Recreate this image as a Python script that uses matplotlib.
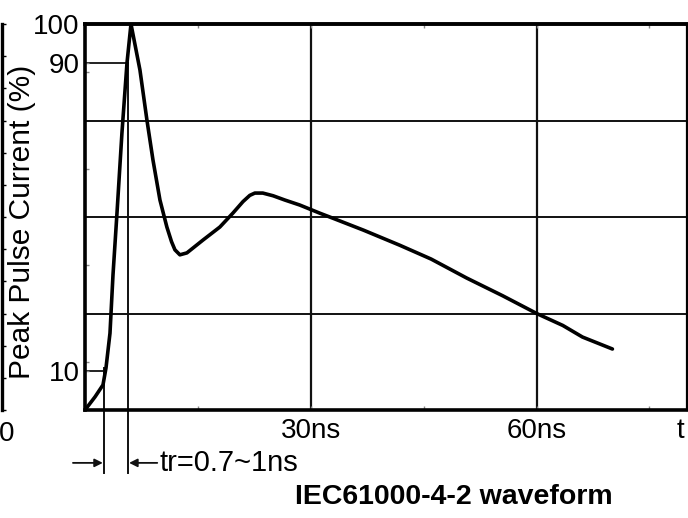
import numpy as np
import matplotlib.pyplot as plt

plt.rcParams['font.family'] = ['Liberation Sans', 'DejaVu Sans']

# waveform: time (ns), current (% of peak)
t_ns = [0, 1.33, 2.39, 2.79, 3.32, 3.72, 4.25, 4.91, 5.58, 6.11,
        7.30, 8.23, 9.03, 9.96, 10.88, 11.50, 11.95, 12.61, 13.54, 15.66, 17.92,
        19.65, 21.00, 21.90, 22.57, 23.63, 25.00, 26.55, 28.54, 31.19, 32.92,
        37.00, 41.81, 46.00, 50.71, 55.50, 60.13, 63.50, 66.11, 70.09]
i_pct = [0, 3.4, 6.5, 10.9, 19.9, 35.0, 51.0, 71.8, 89.9, 100,
         88.1, 75.1, 64.8, 54.4, 47.4, 43.6, 41.5, 40.2, 40.7, 44.0, 47.4,
         51.0, 54.0, 55.6, 56.2, 56.2, 55.5, 54.4, 53.1, 51.0, 49.7,
         46.6, 42.7, 39.1, 34.2, 29.6, 24.9, 21.9, 18.9, 15.8]

grid_x = [30, 60]
grid_y = [25, 50, 75]
xtick_pos = [15, 30, 45, 60, 75]
xtick_lab = ['', '30ns', '', '60ns', '']
ytick_pos = [10, 12.5, 37.5, 62.5, 87.5, 90, 100]
ytick_lab = ['10', '', '', '', '', '90', '100']
t10, t90 = 2.52, 5.71   # 10% and 90% crossing times

W, H = 688, 518
fig = plt.figure(figsize=(W / 100, H / 100), dpi=100)
L, R, T, B = 85, 687, 24, 410
ax = fig.add_axes([L / W, 1 - B / H, (R - L) / W, (B - T) / H])
ax.set_xlim(0, 80)
ax.set_ylim(0, 100)

ink = '#111111'
for gx in grid_x:
    ax.axvline(gx, color=ink, lw=1.6, zorder=1)
for gy in grid_y:
    ax.axhline(gy, color=ink, lw=1.4, zorder=1)
ax.plot([0, t90], [90, 90], color=ink, lw=1.3, zorder=1)
ax.plot([0, t10], [10, 10], color=ink, lw=1.3, zorder=1)

ax.plot(t_ns, i_pct, color='black', lw=2.6, zorder=3,
        solid_joinstyle='round', solid_capstyle='round')

for side, w in [('top', 2.8), ('bottom', 2.6), ('left', 2.6), ('right', 1.6)]:
    ax.spines[side].set_linewidth(w)
    ax.spines[side].set_color('black')

ax.set_xticks(xtick_pos, xtick_lab)
ax.set_yticks(ytick_pos, ytick_lab)
ax.tick_params(axis='both', direction='in', length=3, width=1, color='#888888',
               labelsize=20, pad=4, top=True)
ax.tick_params(axis='x', pad=6)

# rise-time annotation below the axis
yb = -16.3
ya = -13.7
ax.plot([t10, t10], [10.9, yb], color=ink, lw=1.4, clip_on=False)
ax.plot([t90, t90], [90, yb], color=ink, lw=1.4, clip_on=False)
ax.annotate('', xy=(t10 - 0.15, ya), xytext=(-1.6, ya), annotation_clip=False,
            arrowprops=dict(arrowstyle='-|>', color=ink, lw=1.3, mutation_scale=12,
                            shrinkA=0, shrinkB=0))
ax.annotate('', xy=(t90 + 0.15, ya), xytext=(9.6, ya), annotation_clip=False,
            arrowprops=dict(arrowstyle='-|>', color=ink, lw=1.3, mutation_scale=12,
                            shrinkA=0, shrinkB=0))
ax.text(9.9, ya, 'tr=0.7~1ns', fontsize=21, ha='left', va='center', clip_on=False)

# remnant of neighbouring panel at left edge
ax0 = fig.add_axes([-0.2, 1 - B / H, 0.2 + 2 / W, (B - T) / H])
for s in ['top', 'bottom', 'left']:
    ax0.spines[s].set_visible(False)
ax0.spines['right'].set_linewidth(2.4)
ax0.set_xticks([])
ax0.set_yticks(np.arange(0, 101, 100 / 12))
ax0.yaxis.tick_right()
ax0.tick_params(axis='y', direction='out', length=3, width=1, labelright=False)
ax0.patch.set_alpha(0)

fig.text(7 / W, 1 - 434 / H, '0', fontsize=20, ha='center', va='center')
fig.text(677 / W, 1 - 431 / H, 't', fontsize=20, ha='left', va='center')
fig.text(22 / W, 1 - 222 / H, 'Peak Pulse Current (%)', fontsize=21.5,
         rotation=90, ha='center', va='center')
fig.text(454 / W, 1 - 497 / H, 'IEC61000-4-2 waveform', fontsize=20.5,
         fontweight='bold', ha='center', va='center')

fig.savefig('out.png', dpi=100)
